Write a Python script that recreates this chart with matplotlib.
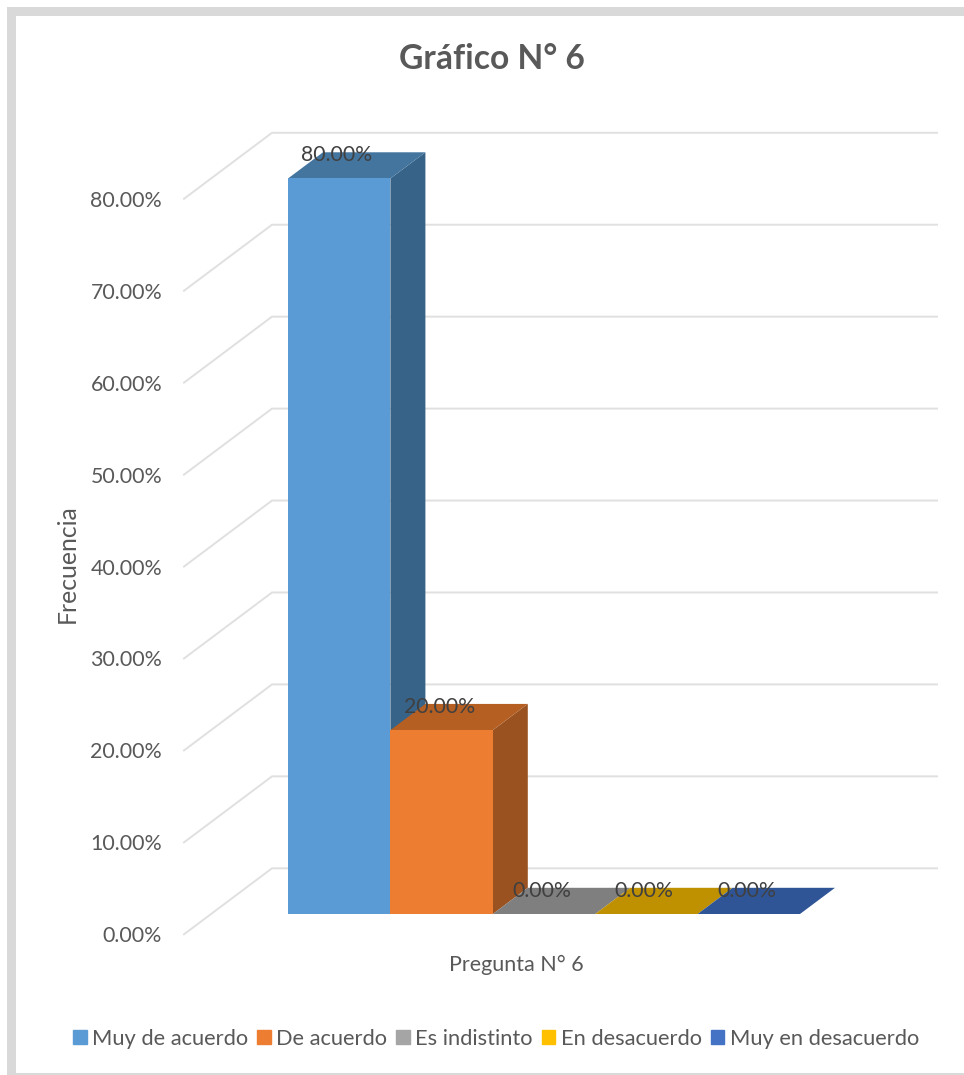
import matplotlib
matplotlib.use("Agg")
import matplotlib.pyplot as plt
from matplotlib.patches import Rectangle

plt.rcParams['font.family'] = ['Lato', 'DejaVu Sans']

categorias = ['Muy de acuerdo', 'De acuerdo', 'Es indistinto', 'En desacuerdo', 'Muy en desacuerdo']
valores = [80.0, 20.0, 0.0, 0.0, 0.0]
niveles = [0, 10, 20, 30, 40, 50, 60, 70, 80]
colores = ['#5B9BD5', '#ED7D31', '#A5A5A5', '#FFC000', '#4472C4']
color_arriba = ['#44759F', '#B55F22', '#7F7F7F', '#BF9000', '#2F5597']
color_lado = ['#376389', '#9A5220', '#7F7F7F', '#BF9000', '#2F5597']

W, H = 964, 1075
PX_X = 102.4   # pixels per category
PX_Y = 9.194   # pixels per percent
X0 = 288       # left edge of the first bar, pixels
GRIS = '#595959'

fig = plt.figure(figsize=(W / 100, H / 100), dpi=100)

# outer frame of the pasted picture
def marco(x, y, w, h):
    fig.add_artist(Rectangle((x / W, 1 - (y + h) / H), w / W, h / H, transform=fig.transFigure,
                             facecolor='#D9D9D9', edgecolor='none'))
marco(7, 7, 957, 9)
marco(7, 7, 9, 1067)
marco(7, 1073, 957, 2)

# axes: left edge at 165px, y=0 on the front of the side wall
izq, der, abajo, arriba = 165, 945, 934.3, 100
ax = fig.add_axes([izq / W, 1 - abajo / H, (der - izq) / W, (abajo - arriba) / H])
ax.set_xlim((izq - X0) / PX_X, (der - X0) / PX_X)
ax.set_ylim(0, (abajo - arriba) / PX_Y)
ax.patch.set_visible(False)
for s in ax.spines.values():
    s.set_visible(False)

# oblique projection in data units
piso = (934.3 - 914) / PX_Y      # where the bars stand
dx = 35 / PX_X
dy = 26.2 / PX_Y
pared_x0 = (184 - X0) / PX_X
pared_x1 = (272 - X0) / PX_X
pared_x2 = (937 - X0) / PX_X
pared_dy = (934.3 - 868.3) / PX_Y

for n in niveles:
    ax.plot([pared_x0, pared_x1, pared_x2], [n, n + pared_dy, n + pared_dy],
            color='#E0E0E0', lw=1.4, zorder=1, clip_on=False, solid_joinstyle='miter')

for i, v in enumerate(valores):
    top = piso + v
    z = 2 + i
    ax.bar(i, v, width=1, align='edge', bottom=piso, color=colores[i], zorder=z + 0.2)
    ax.fill([i + 1, i + 1 + dx, i + 1 + dx, i + 1], [piso, piso + dy, top + dy, top],
            color=color_lado[i], lw=0, zorder=z)
    ax.fill([i, i + 1, i + 1 + dx, i + dx], [top, top, top + dy, top + dy],
            color=color_arriba[i], lw=0, zorder=z + 0.1)
    ax.annotate('%.2f%%' % v, (i, top), xytext=(49 * 0.72, 23 * 0.72), textcoords='offset points',
                ha='center', va='center', fontsize=15.3, color='#404040', zorder=20)

ax.set_xticks([])
ax.set_yticks(niveles)
ax.set_yticklabels(['%.2f%%' % n for n in niveles], fontsize=15.4, color=GRIS)
ax.tick_params(axis='y', length=0, pad=2)

ax.set_ylabel('Frecuencia', fontsize=17.8, color=GRIS, va='center')
ax.yaxis.set_label_coords((67 - izq) / (der - izq), (abajo - 564) / (abajo - arriba))
ax.set_xlabel('Pregunta N° 6', fontsize=15.5, color=GRIS)
ax.xaxis.set_label_coords((516 - izq) / (der - izq), (abajo - 965) / (abajo - arriba))
ax.xaxis.label.set_verticalalignment('center')

fig.text(492 / W, 1 - 59 / H, 'Gráfico N° 6', ha='center', va='center', fontsize=24.2,
         fontweight='bold', color=GRIS)

manejas = [Rectangle((0, 0), 1, 1, color=c) for c in colores]
fig.legend(manejas, categorias, loc='center', bbox_to_anchor=(496 / W, 1 - 1039 / H), ncol=5,
           frameon=False, fontsize=15.75, labelcolor=GRIS, handlelength=0.63, handleheight=0.63,
           handletextpad=0.25, columnspacing=0.4, borderpad=0)

fig.savefig('out.png', dpi=100)
